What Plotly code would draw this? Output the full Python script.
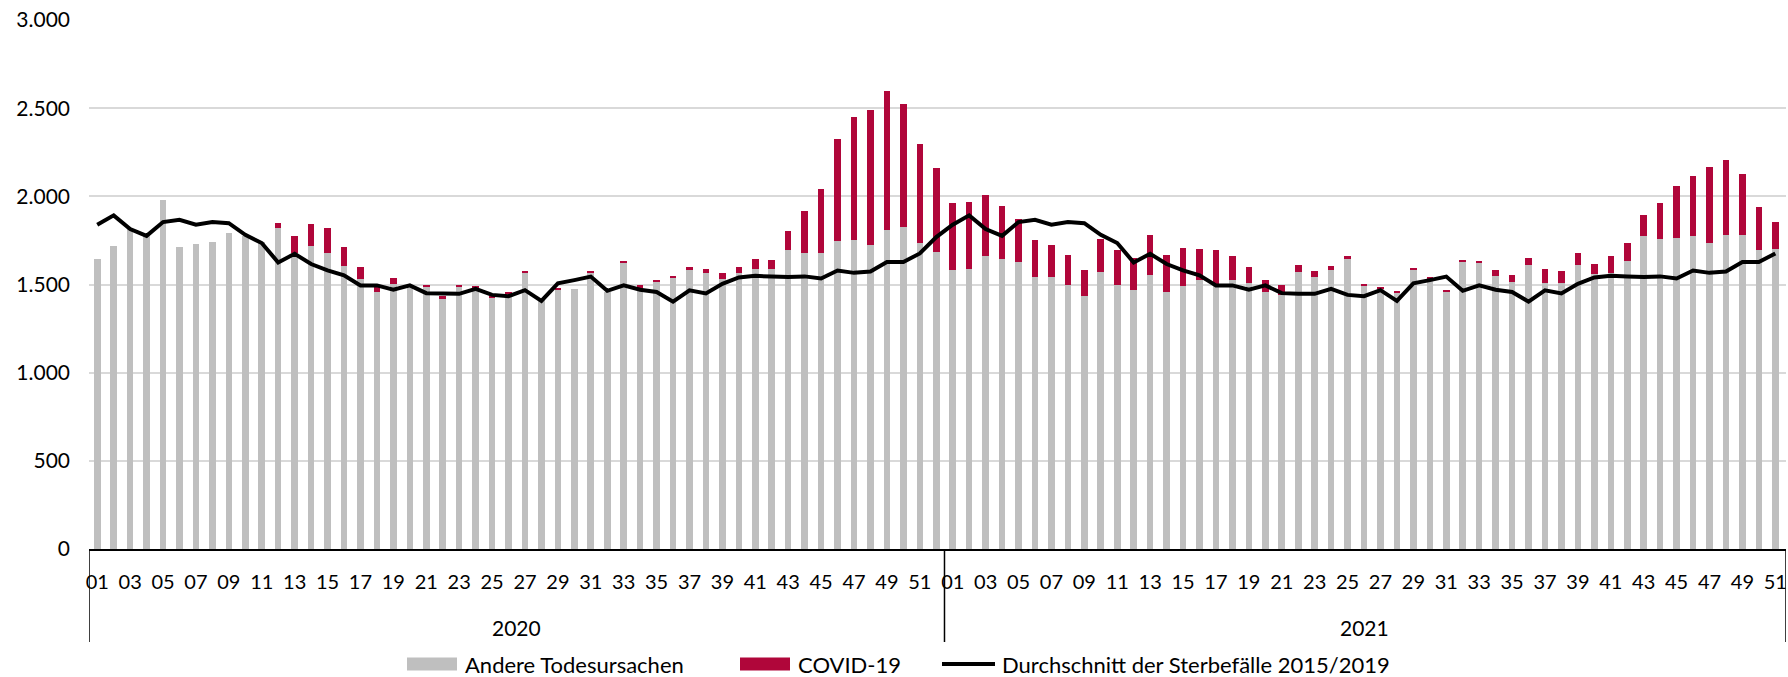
import plotly.graph_objects as go

# Kalenderwochen
weeks_2020 = ["%02d" % w for w in range(1, 53)]
weeks_2021 = ["%02d" % w for w in range(1, 52)]

# Sterbefälle je Woche: andere Todesursachen
andere_2020 = [1646, 1716, 1818, 1776, 1981, 1712, 1731, 1742, 1792, 1776,
               1739, 1822, 1680, 1720, 1678, 1606, 1530, 1455, 1504, 1492,
               1487, 1422, 1490, 1485, 1425, 1447, 1568, 1410, 1470, 1475,
               1564, 1460, 1627, 1485, 1515, 1540, 1587, 1568, 1534, 1564,
               1587, 1587, 1697, 1678, 1678, 1748, 1754, 1725, 1811, 1828,
               1735, 1686]
andere_2021 = [1583, 1587, 1661, 1646, 1627, 1542, 1540, 1496, 1436, 1572,
               1498, 1470, 1555, 1458, 1494, 1525, 1489, 1527, 1508, 1456,
               1441, 1570, 1545, 1580, 1648, 1489, 1477, 1455, 1583, 1536,
               1458, 1629, 1625, 1551, 1517, 1610, 1511, 1511, 1610, 1561,
               1564, 1634, 1773, 1759, 1761, 1773, 1735, 1780, 1780, 1693,
               1701]

# Sterbefälle je Woche: COVID-19
covid_2020 = [0, 0, 0, 0, 0, 0, 0, 0, 0, 0,
              0, 28, 97, 121, 140, 106, 70, 40, 32, 4,
              11, 10, 6, 5, 12, 10, 6, 0, 5, 0,
              12, 0, 9, 11, 10, 9, 11, 21, 30, 36,
              59, 53, 104, 237, 366, 578, 697, 766, 788, 697,
              562, 475]
covid_2021 = [379, 379, 347, 301, 242, 210, 182, 169, 149, 186,
              199, 180, 225, 212, 211, 176, 206, 136, 94, 71,
              55, 38, 29, 24, 11, 15, 8, 7, 12, 6,
              10, 7, 8, 30, 36, 43, 76, 67, 70, 56,
              95, 99, 123, 203, 300, 343, 430, 425, 347, 247,
              153]

# Durchschnitt der Sterbefälle 2015/2019 je Kalenderwoche
durchschnitt = [1839, 1892, 1814, 1776, 1854, 1867, 1839, 1854, 1848, 1782,
                1735, 1625, 1674, 1616, 1580, 1552, 1494, 1495, 1470, 1495,
                1451, 1447, 1447, 1475, 1441, 1434, 1468, 1407, 1507, 1525,
                1545, 1464, 1495, 1470, 1458, 1403, 1467, 1449, 1504, 1540,
                1549, 1545, 1542, 1546, 1534, 1579, 1566, 1574, 1627, 1627,
                1676, 1769]

years = ["2020", "2021"]
names = ["Andere Todesursachen", "COVID-19",
         "Durchschnitt der Sterbefälle 2015/2019"]
colors = ["#BFBFBF", "#B0063A", "black"]

weeks = weeks_2020 + weeks_2021
andere = andere_2020 + andere_2021
covid = covid_2020 + covid_2021
avg_line = durchschnitt[:len(weeks_2020)] + durchschnitt[:len(weeks_2021)]
x = list(range(len(weeks)))

W, H = 1788, 677
L, R, T, B = 89, 2, 20, 128
fnt = "Lato, Calibri, sans-serif"
n20 = len(weeks_2020)
n = len(weeks)
x_end = n - 0.35   # etwas Luft rechts, damit "51" nicht abgeschnitten wird


def px(p):  # pixel -> paper x
    return (p - L) / (W - L - R)


def py(p):  # pixel -> paper y
    return (H - B - p) / (H - T - B)


fig = go.Figure()
fig.add_trace(go.Bar(x=x, y=andere, name=names[0],
                     marker=dict(color=colors[0], line=dict(width=0))))
fig.add_trace(go.Bar(x=x, y=covid, name=names[1],
                     marker=dict(color=colors[1], line=dict(width=0))))
fig.add_trace(go.Scatter(x=x, y=avg_line, mode="lines", name=names[2],
                         line=dict(color=colors[2], width=4)))

tick_idx = [i for i, w in enumerate(weeks) if int(w) % 2 == 1]

# Trennlinien der Jahresgruppen unter der Achse
for xv in [-0.5, n20 - 0.5, x_end]:
    fig.add_shape(type="line", xref="x", yref="paper", x0=xv, x1=xv,
                  y0=0, y1=py(642), line=dict(color="black", width=1.5))

fig.add_annotation(x=(n20 - 1) / 2, y=py(627), xref="x", yref="paper",
                   text=years[0], showarrow=False, yanchor="middle",
                   font=dict(size=21, color="black", family=fnt))
fig.add_annotation(x=n20 + (n - n20 - 1) / 2, y=py(627), xref="x",
                   yref="paper", text=years[1], showarrow=False,
                   yanchor="middle",
                   font=dict(size=21, color="black", family=fnt))

# Legende wie im Original (breite Farbfelder)
leg_y = 664
sym_x = [407, 740, 942]
txt_x = [463, 796, 1000]
for i in range(3):
    if i < 2:
        fig.add_shape(type="rect", xref="paper", yref="paper",
                      x0=px(sym_x[i]), x1=px(sym_x[i] + 50),
                      y0=py(leg_y - 6.5), y1=py(leg_y + 6.5),
                      fillcolor=colors[i], line=dict(width=0))
    else:
        fig.add_shape(type="line", xref="paper", yref="paper",
                      x0=px(sym_x[i]), x1=px(sym_x[i] + 53),
                      y0=py(leg_y), y1=py(leg_y),
                      line=dict(color=colors[i], width=4))
    fig.add_annotation(x=px(txt_x[i]), y=py(leg_y), xref="paper",
                       yref="paper", text=names[i], showarrow=False,
                       xanchor="left", yanchor="middle",
                       font=dict(size=22, color="black", family=fnt))

fig.update_layout(
    barmode="stack",
    bargap=0.6,
    width=W, height=H,
    margin=dict(l=L, r=R, t=T, b=B),
    paper_bgcolor="white", plot_bgcolor="white",
    separators=",.",
    font=dict(family=fnt, size=21, color="black"),
    showlegend=False,
    xaxis=dict(range=[-0.5, x_end], tickmode="array", tickvals=tick_idx,
               ticktext=[weeks[i] for i in tick_idx], showline=True,
               linecolor="black", linewidth=1.5, showgrid=False,
               zeroline=False, ticks="", ticklabelstandoff=14,
               ticklabeloverflow="allow", automargin=False,
               tickfont=dict(size=20)),
    yaxis=dict(range=[0, 3000], dtick=500, tickformat=",d",
               gridcolor="#D9D9D9", gridwidth=1.5, zeroline=False,
               showline=False, ticks="", ticklabelstandoff=18,
               automargin=False, tickfont=dict(size=21)),
)

fig.write_html("out.html", config={"displayModeBar": False},
               post_script="document.body.style.margin='0';")
